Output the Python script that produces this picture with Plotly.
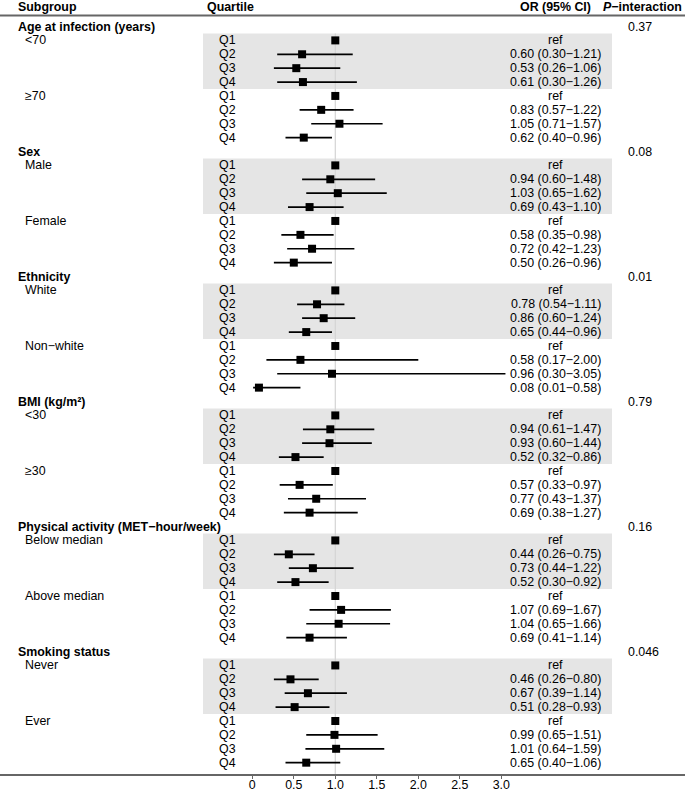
import plotly.graph_objects as go

# ---------------- data ----------------
groups = ["Age at infection (years)", "Sex", "Ethnicity", "BMI (kg/m²)",
          "Physical activity (MET−hour/week)", "Smoking status"]
p_interaction = ["0.37", "0.08", "0.01", "0.79", "0.16", "0.046"]
subgroups = [["<70", "≥70"], ["Male", "Female"], ["White", "Non−white"],
             ["<30", "≥30"], ["Below median", "Above median"], ["Never", "Ever"]]
quartiles = ["Q1", "Q2", "Q3", "Q4"]

# OR, lower, upper for Q2..Q4 (Q1 is reference = 1)
or_vals = [
    [[0.60, 0.53, 0.61], [0.83, 1.05, 0.62]],
    [[0.94, 1.03, 0.69], [0.58, 0.72, 0.50]],
    [[0.78, 0.86, 0.65], [0.58, 0.96, 0.08]],
    [[0.94, 0.93, 0.52], [0.57, 0.77, 0.69]],
    [[0.44, 0.73, 0.52], [1.07, 1.04, 0.69]],
    [[0.46, 0.67, 0.51], [0.99, 1.01, 0.65]],
]
lo_vals = [
    [[0.30, 0.26, 0.30], [0.57, 0.71, 0.40]],
    [[0.60, 0.65, 0.43], [0.35, 0.42, 0.26]],
    [[0.54, 0.60, 0.44], [0.17, 0.30, 0.01]],
    [[0.61, 0.60, 0.32], [0.33, 0.43, 0.38]],
    [[0.26, 0.44, 0.30], [0.69, 0.65, 0.41]],
    [[0.26, 0.39, 0.28], [0.65, 0.64, 0.40]],
]
hi_vals = [
    [[1.21, 1.06, 1.26], [1.22, 1.57, 0.96]],
    [[1.48, 1.62, 1.10], [0.98, 1.23, 0.96]],
    [[1.11, 1.24, 0.96], [2.00, 3.05, 0.58]],
    [[1.47, 1.44, 0.86], [0.97, 1.37, 1.27]],
    [[0.75, 1.22, 0.92], [1.67, 1.66, 1.14]],
    [[0.80, 1.14, 0.93], [1.51, 1.59, 1.06]],
]
ref_value = 1.0
tick_vals = [0, 0.5, 1.0, 1.5, 2.0, 2.5, 3.0]
tick_text = ["0", "0.5", "1.0", "1.5", "2.0", "2.5", "3.0"]

# ---------------- geometry ----------------
W, H = 685, 793
ROW0_PX = 26.5      # pixel centre of first row
ROW_H = 13.89       # pixels per row
AXIS_PX = 774.0     # bottom axis line
X0_PX = 252.3       # pixel of x=0
X_UNIT = 83.0       # pixels per OR unit

def px2row(py):
    return (py - ROW0_PX) / ROW_H

def pxx(px):
    return px / W

FONT = "Liberation Sans, Arial, Helvetica, sans-serif"
FS = 12.4

# ---------------- build rows ----------------
annotations = []
shapes = []
mx, my = [], []
lx, ly = [], []

def txt(x_px, row, text, anchor="left", bold=False):
    annotations.append(dict(
        x=pxx(x_px), xref="paper", y=row, yref="y",
        text=f"<b>{text}</b>" if bold else text,
        showarrow=False, xanchor=anchor, yanchor="middle",
        font=dict(family=FONT, size=FS, color="black")))

row = 0
for g, gname in enumerate(groups):
    txt(16, row, gname, bold=True)
    txt(626, row, p_interaction[g])
    row += 1
    for s, sname in enumerate(subgroups[g]):
        if s == 0:
            shapes.append(dict(type="rect", xref="paper", yref="y",
                               x0=pxx(203), x1=pxx(612),
                               y0=row - 0.5, y1=row + 3.5,
                               fillcolor="#e5e5e5", line=dict(width=0),
                               layer="below"))
        txt(23, row, sname)
        for q, qname in enumerate(quartiles):
            txt(217, row, qname)
            if q == 0:
                mx.append(ref_value)
                my.append(row)
                txt(555.5, row, "ref", anchor="center")
            else:
                o = or_vals[g][s][q - 1]
                lo = lo_vals[g][s][q - 1]
                hi = hi_vals[g][s][q - 1]
                mx.append(o)
                my.append(row)
                lx += [lo, hi, None]
                ly += [row, row, None]
                txt(555.5, row, f"{o:.2f} ({lo:.2f}−{hi:.2f})", anchor="center")
            row += 1

n_rows = row

# header row
hdr_row = px2row(6.5)
txt(16, hdr_row, "Subgroup", bold=True)
txt(205, hdr_row, "Quartile", bold=True)
txt(555.5, hdr_row, "OR (95% CI)", anchor="center", bold=True)
annotations.append(dict(
    x=pxx(642), xref="paper", y=hdr_row, yref="y",
    text="<b><i>P</i>−interaction</b>", showarrow=False,
    xanchor="center", yanchor="middle",
    font=dict(family=FONT, size=FS, color="black")))

# top rule
shapes.append(dict(type="line", xref="paper", yref="y", x0=0, x1=1,
                   y0=px2row(15.5), y1=px2row(15.5),
                   line=dict(color="#666666", width=2), layer="above"))
# reference line
shapes.append(dict(type="line", xref="x", yref="y", x0=ref_value, x1=ref_value,
                   y0=0.5, y1=px2row(AXIS_PX),
                   line=dict(color="#d4d4d4", width=1.2), layer="below"))

fig = go.Figure()
fig.add_trace(go.Scatter(x=lx, y=ly, mode="lines",
                         line=dict(color="black", width=1.7),
                         hoverinfo="skip", showlegend=False))
fig.add_trace(go.Scatter(x=mx, y=my, mode="markers",
                         marker=dict(symbol="square", size=8, color="black",
                                     line=dict(width=0)),
                         showlegend=False))

x_left = -X0_PX / X_UNIT
x_right = (W - X0_PX) / X_UNIT
y_top = px2row(0)
y_bot = px2row(AXIS_PX)

fig.update_layout(
    width=W, height=H,
    margin=dict(l=0, r=0, t=0, b=H - AXIS_PX, pad=0, autoexpand=False),
    paper_bgcolor="white", plot_bgcolor="white",
    shapes=shapes, annotations=annotations,
    font=dict(family=FONT, size=FS, color="black"),
    xaxis=dict(range=[x_left, x_right], domain=[0, 1], automargin=False,
               tickvals=tick_vals, ticktext=tick_text,
               ticks="outside", ticklen=3, tickwidth=1.3, tickcolor="#666666",
               ticklabelstandoff=-5,
               showline=True, linecolor="#666666", linewidth=2,
               showgrid=False, zeroline=False,
               tickfont=dict(family=FONT, size=FS, color="black")),
    yaxis=dict(range=[y_bot, y_top], visible=False, showgrid=False,
               zeroline=False, automargin=False),
)

fig.write_html(
    "out.html",
    config={"displayModeBar": False},
    post_script="document.body.style.margin='0';document.body.style.padding='0';"
                "document.body.style.overflow='hidden';",
)
